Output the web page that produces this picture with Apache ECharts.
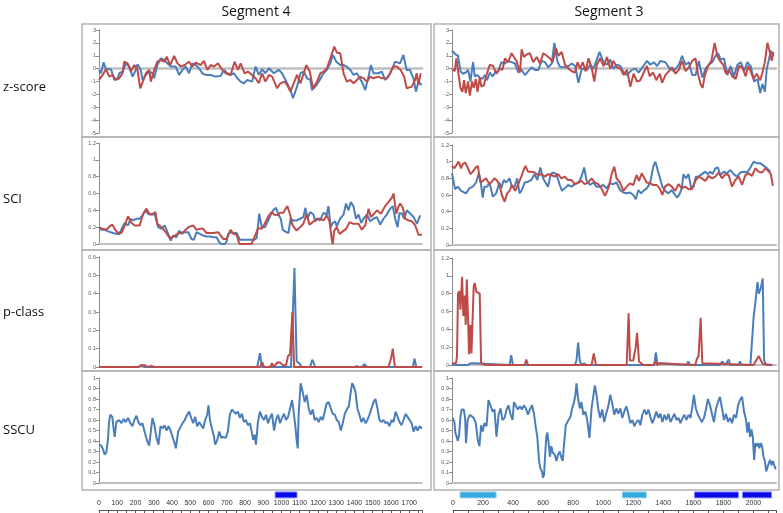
<!DOCTYPE html>
<html><head><meta charset="utf-8">
<script src="https://cdn.jsdelivr.net/npm/echarts/dist/echarts.min.js"></script>
<style>html,body{margin:0;padding:0;background:#fff}#c{width:783px;height:513px}</style>
</head><body><div id="c"></div><script>
// ---------------- DATA (x = position along segment, y = value) ----------------
const segTitles = ['Segment 4', 'Segment 3'];
const rowLabels = ['z-score', 'SCI', 'p-class', 'SSCU'];
const seg4Length = 1770, seg3Length = 2150;

const seg4_z_blue = [[0,-0.1],[11,-0.36],[25,0.49],[38,-0.05],[66,-0.05],[84,-0.88],[102,-0.75],[111,-0.36],[129,-0.23],[148,0.41],[166,0.16],[184,-0.62],[202,-0.1],[211,0.34],[229,-0.1],[239,-0.88],[257,-0.49],[275,-0.23],[293,-0.36],[302,-0.75],[320,0.28],[339,0.8],[357,0.67],[375,0.41],[393,0.16],[421,0.16],[439,-0.49],[457,-0.1],[475,0.16],[493,-0.36],[512,0.41],[530,0.28],[548,0.03],[566,-0.36],[585,-0.49],[612,-0.49],[639,-0.62],[666,-0.57],[685,-0.1],[703,-0.36],[721,-0.49],[739,-0.36],[758,-0.75],[776,-1.01],[794,-1.14],[812,-0.88],[839,-1.01],[858,0.16],[876,-0.49],[894,-0.05],[912,-0.36],[931,0.03],[958,-0.36],[985,-0.1],[1003,-0.36],[1031,-1.14],[1049,-1.66],[1063,-2.3],[1085,-1.4],[1104,-0.36],[1122,-0.23],[1140,-0.75],[1158,-0.88],[1167,-1.66],[1185,-1.4],[1204,-1.01],[1231,-0.36],[1249,-0.1],[1267,0.41],[1282,1.06],[1300,0.54],[1322,0.28],[1340,0.28],[1358,0.16],[1377,-0.1],[1395,-0.49],[1413,-0.36],[1440,-1.01],[1459,-1.66],[1477,-0.62],[1490,0.28],[1504,-0.36],[1531,-0.36],[1550,-0.23],[1568,-0.88],[1586,-0.62],[1604,-0.1],[1623,0.54],[1650,0.41],[1668,1.06],[1686,-0.1],[1704,-0.1],[1723,-0.75],[1737,-1.79],[1750,-1.01],[1768,-1.27]];
const seg4_z_red = [[0,-0.88],[20,-0.49],[38,-0.05],[56,-0.62],[75,-0.49],[93,-0.88],[111,-0.75],[129,-0.36],[138,0.54],[157,0.41],[175,-0.23],[193,0.28],[211,-0.1],[226,-1.53],[244,-0.88],[257,-0.36],[275,-0.1],[284,-1.01],[302,-0.1],[320,0.54],[339,0.67],[357,0.54],[371,0.93],[390,0.28],[412,0.98],[430,0.41],[448,0.16],[470,0.28],[493,0.54],[512,0.16],[530,0.47],[557,0.28],[575,0.6],[594,-0.1],[612,0.28],[630,0.16],[652,0.41],[676,-0.1],[694,-0.36],[721,-0.49],[743,0.54],[761,-0.1],[776,0.41],[798,-0.36],[816,-0.23],[839,-0.49],[858,-0.75],[876,-1.14],[894,-0.36],[912,-1.01],[931,-0.49],[949,-0.62],[976,-1.53],[994,-1.14],[1016,-1.01],[1031,-1.27],[1049,-1.79],[1067,-1.14],[1085,-0.49],[1104,-1.14],[1122,-0.36],[1136,0.28],[1155,-0.23],[1173,-1.53],[1195,-1.01],[1213,-0.36],[1231,-0.23],[1249,0.03],[1271,0.93],[1289,1.71],[1304,1.24],[1322,1.19],[1340,-0.36],[1358,-1.01],[1377,-0.88],[1395,-1.14],[1413,-0.88],[1431,-0.62],[1450,-0.75],[1468,-1.01],[1486,-0.62],[1504,-0.75],[1531,-0.62],[1550,-0.75],[1577,-0.75],[1595,-0.36],[1613,0.16],[1632,0.16],[1653,-0.1],[1672,-0.62],[1686,-1.53],[1714,-1.4],[1732,-0.88],[1741,-0.36],[1750,-1.27],[1763,-0.36]];

const seg3_z_blue = [[0,1.4],[24,1.1],[40,1.0],[56,-0.2],[73,-0.4],[91,-0.3],[107,-0.1],[122,-1.0],[140,0.5],[151,-0.6],[167,-0.5],[184,-0.7],[202,-0.8],[218,-0.5],[233,-0.9],[251,-0.3],[269,-0.6],[286,-0.3],[306,-0.2],[329,0.5],[351,0.4],[373,0.6],[395,0.5],[417,0.4],[440,-0.3],[462,-0.1],[484,-0.5],[506,-0.2],[528,0.1],[551,-0.1],[573,-0.1],[595,0.6],[617,0.5],[639,0.1],[662,0.4],[679,2.0],[699,0.6],[713,0.2],[728,0.1],[750,0.1],[773,0.2],[795,0.4],[817,0.2],[839,-1.1],[861,0],[895,-0.1],[917,0.3],[939,0],[979,1.3],[1001,0.6],[1028,0.3],[1050,0.7],[1072,0],[1094,0.3],[1117,0.2],[1139,-0.3],[1161,-0.5],[1194,-0.1],[1217,0],[1239,-0.3],[1294,0.6],[1316,0.3],[1339,0.5],[1361,0.2],[1383,0.6],[1416,0.5],[1439,0.1],[1472,-0.2],[1505,0.3],[1527,1.0],[1550,0.3],[1572,0.5],[1594,-0.5],[1616,-0.5],[1638,0.6],[1661,-0.7],[1683,0],[1705,0.3],[1727,0.5],[1749,1.0],[1765,1.2],[1783,0.7],[1805,0.8],[1827,-0.5],[1849,0.2],[1871,-0.6],[1894,0.3],[1916,0.5],[1938,-0.2],[1960,0.5],[1982,0.2],[2005,-1.0],[2027,-0.8],[2045,-1.9],[2060,-1.2],[2076,-1.8],[2089,0],[2105,0.8],[2116,1.4],[2133,1.0]];
const seg3_z_red = [[0,0.0],[18,-0.2],[29,0.8],[44,-0.5],[56,-1.5],[69,-1.8],[80,-0.9],[91,-1.9],[107,-1.0],[118,-2.1],[133,-1.0],[144,-1.5],[158,-0.8],[169,-1.8],[184,-0.7],[195,-1.4],[211,-1.3],[229,-0.5],[251,0.3],[273,0.2],[295,-0.4],[317,0.0],[335,-0.1],[351,0.8],[373,0.5],[395,1.2],[411,0.9],[428,0.6],[451,-0.3],[462,1.5],[477,0.9],[495,1.1],[517,1.2],[539,0.5],[562,0.9],[584,0.4],[606,1.2],[628,1.0],[650,0.8],[668,0.5],[690,1.6],[706,1.0],[728,1.3],[750,0.3],[773,0.0],[795,-0.2],[817,-0.3],[833,0.5],[850,0.0],[868,0.5],[886,-0.2],[906,0.8],[928,0.0],[944,-1.0],[961,0.3],[983,0.8],[1006,0.2],[1028,0.9],[1050,0.0],[1072,0.6],[1094,0.1],[1117,0.0],[1139,-0.5],[1161,-0.1],[1183,-1.4],[1205,-0.4],[1228,-1.0],[1250,-0.9],[1272,-0.3],[1294,0.2],[1312,-0.6],[1334,-0.3],[1356,-0.9],[1379,-0.4],[1394,-1.1],[1416,-0.5],[1439,-0.2],[1461,0.1],[1483,-0.4],[1505,-0.1],[1527,0.6],[1550,-0.2],[1572,0.1],[1594,0.6],[1616,0.8],[1632,-0.4],[1649,-1.2],[1663,-1.5],[1676,-0.6],[1698,0.2],[1721,0.6],[1743,2.0],[1760,1.0],[1778,0.6],[1800,0.3],[1818,-0.4],[1838,-0.1],[1860,-0.6],[1883,-0.8],[1905,0.2],[1927,0.1],[1949,-0.6],[1965,0.2],[1982,-0.2],[2000,-0.8],[2022,-0.4],[2045,-0.9],[2060,-0.3],[2076,0.5],[2093,2.0],[2111,1.2],[2122,0.6],[2133,1.3]];

const seg4_sci_blue = [[0,0.2],[13,0.17],[31,0.17],[49,0.15],[59,0.13],[77,0.13],[95,0.12],[113,0.12],[128,0.2],[141,0.25],[159,0.22],[172,0.3],[187,0.28],[205,0.3],[223,0.3],[242,0.35],[256,0.4],[269,0.36],[287,0.35],[306,0.35],[324,0.2],[342,0.18],[360,0.22],[379,0.12],[393,0.04],[406,0.1],[424,0.08],[439,0.16],[452,0.12],[470,0.14],[489,0.14],[507,0.06],[520,0.05],[534,0.14],[553,0.12],[571,0.1],[589,0.09],[608,0.09],[626,0.08],[644,0.08],[659,0.02],[672,0],[690,0],[699,0.03],[708,0.12],[721,0.14],[736,0.13],[754,0.13],[772,0.05],[791,0.05],[809,0.05],[827,0.05],[836,0.03],[851,0.05],[864,0.07],[878,0.36],[891,0.2],[910,0.2],[928,0.28],[941,0.35],[955,0.4],[970,0.43],[983,0.35],[996,0.3],[1007,0.17],[1019,0.15],[1038,0.13],[1050,0.3],[1065,0.28],[1083,0.28],[1102,0.3],[1120,0.32],[1131,0.43],[1142,0.3],[1157,0.38],[1175,0.35],[1186,0.27],[1197,0.3],[1211,0.28],[1230,0.37],[1248,0.35],[1257,0.45],[1270,0.2],[1281,0.25],[1294,0.27],[1303,0.21],[1321,0.3],[1340,0.35],[1354,0.48],[1367,0.4],[1380,0.5],[1394,0.45],[1409,0.3],[1422,0.35],[1437,0.25],[1449,0.3],[1468,0.35],[1486,0.27],[1504,0.3],[1523,0.32],[1541,0.23],[1559,0.3],[1577,0.35],[1596,0.42],[1610,0.45],[1623,0.3],[1636,0.2],[1647,0.37],[1660,0.36],[1673,0.3],[1687,0.4],[1706,0.36],[1724,0.32],[1742,0.24],[1760,0.34]];
const seg4_sci_red = [[0,0.2],[18,0.18],[40,0.17],[59,0.21],[73,0.23],[86,0.18],[99,0.14],[123,0.13],[141,0.22],[159,0.33],[168,0.34],[178,0.25],[196,0.22],[223,0.22],[242,0.36],[260,0.42],[278,0.35],[296,0.36],[309,0.38],[320,0.24],[342,0.2],[366,0.14],[388,0.07],[415,0.1],[439,0.13],[461,0.14],[489,0.2],[516,0.22],[534,0.17],[553,0.18],[571,0.18],[589,0.13],[626,0.13],[653,0.14],[681,0.06],[699,0.06],[721,0.17],[736,0.12],[754,0.11],[769,0],[791,0],[818,0],[836,0],[855,0.1],[873,0.19],[891,0.18],[910,0.25],[928,0.33],[946,0.38],[959,0.35],[977,0.34],[992,0.37],[1010,0.37],[1032,0.45],[1047,0.35],[1061,0.22],[1083,0.16],[1102,0.2],[1120,0.24],[1138,0.36],[1153,0.23],[1171,0.26],[1193,0.3],[1211,0.3],[1230,0.28],[1248,0.34],[1263,0.27],[1276,0.05],[1281,0],[1288,0.15],[1303,0.2],[1318,0.12],[1336,0.15],[1354,0.18],[1373,0.26],[1394,0.24],[1422,0.24],[1440,0.17],[1459,0.22],[1477,0.42],[1490,0.32],[1508,0.36],[1523,0.4],[1545,0.36],[1568,0.45],[1587,0.5],[1605,0.55],[1614,0.6],[1629,0.36],[1642,0.45],[1651,0.48],[1665,0.43],[1678,0.3],[1696,0.28],[1715,0.27],[1733,0.22],[1751,0.11],[1770,0.11]];

const seg3_sci_blue = [[0,0.86],[11,0.85],[20,0.67],[38,0.7],[60,0.65],[93,0.62],[115,0.68],[138,0.7],[160,0.75],[178,0.86],[189,0.78],[204,0.57],[215,0.7],[233,0.7],[249,0.75],[271,0.58],[293,0.62],[315,0.75],[326,0.68],[344,0.78],[360,0.75],[382,0.8],[397,0.7],[415,0.7],[433,0.8],[448,0.62],[464,0.66],[482,0.75],[504,0.76],[526,0.78],[548,0.85],[566,0.78],[586,0.93],[604,0.8],[620,0.75],[637,0.7],[655,0.85],[670,0.87],[693,0.85],[715,0.72],[730,0.65],[748,0.68],[770,0.72],[793,0.7],[815,0.73],[841,0.75],[859,0.82],[877,0.93],[892,0.78],[915,0.72],[937,0.75],[959,0.7],[981,0.7],[1003,0.72],[1026,0.68],[1048,0.74],[1070,0.73],[1092,0.75],[1115,0.66],[1137,0.63],[1159,0.62],[1181,0.63],[1203,0.6],[1219,0.55],[1237,0.66],[1254,0.62],[1270,0.65],[1292,0.68],[1314,0.74],[1337,0.95],[1350,1.0],[1368,0.88],[1381,0.9],[1396,0.7],[1414,0.65],[1436,0.62],[1459,0.66],[1476,0.61],[1492,0.57],[1507,0.6],[1525,0.68],[1536,0.85],[1552,0.8],[1570,0.85],[1587,0.68],[1603,0.7],[1618,0.82],[1636,0.82],[1658,0.85],[1681,0.88],[1698,0.85],[1714,0.88],[1729,0.85],[1747,0.92],[1765,0.93],[1780,0.84],[1803,0.88],[1825,0.86],[1847,0.9],[1869,0.85],[1891,0.82],[1914,0.87],[1936,0.88],[1958,0.87],[1980,0.93],[2002,1.0],[2025,0.98],[2047,0.98],[2069,0.95],[2091,0.92],[2113,0.88]];
const seg3_sci_red = [[0,0.95],[16,0.92],[33,0.97],[44,1.0],[60,0.92],[71,0.97],[87,0.99],[104,0.93],[122,0.85],[138,0.88],[153,0.92],[171,0.95],[189,0.75],[206,0.77],[226,0.8],[249,0.73],[264,0.76],[282,0.8],[300,0.77],[315,0.72],[331,0.6],[349,0.52],[366,0.62],[382,0.65],[397,0.72],[420,0.65],[437,0.72],[460,0.82],[475,0.9],[488,0.95],[504,0.88],[526,0.88],[548,0.87],[571,0.84],[593,0.85],[615,0.82],[637,0.85],[659,0.84],[682,0.82],[704,0.85],[726,0.8],[748,0.82],[770,0.78],[793,0.78],[815,0.73],[837,0.75],[859,0.77],[881,0.73],[904,0.75],[926,0.8],[948,0.75],[970,0.73],[992,0.68],[1015,0.59],[1026,0.63],[1041,0.7],[1059,0.85],[1077,0.94],[1092,0.8],[1115,0.75],[1137,0.65],[1159,0.7],[1181,0.74],[1203,0.72],[1225,0.84],[1241,0.77],[1259,0.86],[1277,0.8],[1292,0.75],[1314,0.74],[1337,0.72],[1359,0.72],[1381,0.67],[1396,0.6],[1414,0.7],[1436,0.73],[1459,0.7],[1481,0.65],[1503,0.73],[1525,0.68],[1547,0.7],[1570,0.67],[1592,0.67],[1614,0.77],[1636,0.82],[1658,0.8],[1681,0.77],[1703,0.83],[1725,0.8],[1747,0.82],[1769,0.87],[1792,0.8],[1814,0.85],[1836,0.84],[1858,0.7],[1880,0.78],[1903,0.82],[1925,0.72],[1947,0.84],[1969,0.86],[1991,0.83],[2013,0.92],[2036,0.88],[2058,0.87],[2080,0.92],[2102,0.88],[2116,0.85],[2129,0.71]];

const seg4_p_blue = [[0,0],[214,0],[232,0.01],[251,0],[867,0],[882,0.075],[893,0],[1052,0],[1071,0.54],[1083,0.03],[1098,0.02],[1111,0],[1157,0],[1169,0.04],[1185,0],[1400,0],[1413,0.005],[1425,0],[1440,0],[1455,0.015],[1468,0],[1720,0],[1729,0.045],[1739,0],[1770,0]];
const seg4_p_red = [[0,0],[216,0],[232,0.01],[251,0.01],[269,0],[287,0.005],[306,0],[882,0],[895,0.025],[904,0],[937,0],[948,0.02],[959,0],[977,0.025],[992,0.025],[1007,0.01],[1025,0.01],[1036,0.06],[1047,0.07],[1060,0.3],[1069,0],[1587,0],[1601,0.05],[1610,0.1],[1621,0],[1770,0]];

const seg3_p_blue = [[0,0],[104,0],[127,0.02],[138,0],[149,0.02],[160,0],[382,0],[393,0.11],[404,0],[815,0],[826,0.05],[837,0.25],[848,0.05],[859,0],[877,0.02],[892,0],[1121,0],[1130,0.02],[1141,0],[1343,0],[1352,0.14],[1363,0.02],[1370,0],[1558,0],[1567,0.04],[1581,0],[1780,0],[1792,0.04],[1803,0.03],[1814,0],[1825,0.02],[1836,0.06],[1847,0],[1903,0],[1911,0.04],[1920,0],[1980,0],[1991,0.02],[2002,0.55],[2013,0.7],[2027,0.93],[2036,0.8],[2049,0.86],[2062,0.97],[2071,0.05],[2085,0],[2125,0]];
const seg3_p_red = [[0,0.02],[11,0.03],[27,0.02],[33,0.1],[40,0.8],[49,0.83],[56,0.62],[67,0.99],[75,0.55],[84,0.78],[91,0.45],[98,0.96],[107,0.5],[113,0.12],[122,0.45],[129,0.13],[138,0.15],[144,0.88],[151,0.92],[162,0.82],[171,0.8],[184,0.8],[193,0.02],[204,0],[226,0],[238,0.01],[253,0],[482,0],[493,0.06],[504,0],[926,0],[941,0.13],[955,0],[1159,0],[1172,0.58],[1181,0.05],[1203,0.05],[1219,0.2],[1228,0.36],[1241,0.04],[1254,0.05],[1270,0],[1336,0],[1350,0.04],[1361,0],[1381,0.02],[1392,0],[1614,0],[1625,0.07],[1636,0.1],[1650,0.53],[1661,0.02],[1672,0],[2002,0],[2018,0.05],[2036,0.1],[2047,0.1],[2062,0.01],[2125,0]];

const seg4_sscu = [[0,0.365],[13,0.355],[22,0.32],[31,0.27],[40,0.29],[49,0.41],[55,0.58],[62,0.65],[73,0.63],[81,0.5],[86,0.44],[95,0.58],[110,0.6],[123,0.57],[135,0.61],[146,0.58],[159,0.62],[172,0.57],[183,0.54],[194,0.6],[205,0.64],[216,0.58],[227,0.55],[238,0.57],[251,0.48],[264,0.4],[275,0.355],[282,0.46],[293,0.62],[304,0.55],[315,0.43],[326,0.365],[337,0.54],[348,0.52],[359,0.55],[370,0.5],[381,0.54],[392,0.5],[403,0.44],[414,0.38],[421,0.33],[434,0.49],[443,0.52],[458,0.57],[470,0.6],[483,0.65],[494,0.68],[505,0.62],[516,0.57],[527,0.63],[538,0.54],[549,0.58],[560,0.55],[571,0.52],[582,0.6],[593,0.65],[600,0.74],[608,0.6],[619,0.52],[630,0.44],[637,0.365],[648,0.41],[659,0.49],[670,0.43],[681,0.44],[695,0.43],[706,0.49],[717,0.65],[728,0.7],[739,0.68],[750,0.66],[761,0.68],[772,0.62],[783,0.66],[794,0.58],[805,0.6],[816,0.55],[827,0.57],[838,0.48],[845,0.41],[853,0.46],[860,0.365],[871,0.58],[882,0.68],[893,0.63],[904,0.6],[915,0.65],[926,0.57],[937,0.62],[948,0.66],[959,0.5],[970,0.6],[981,0.65],[992,0.57],[1003,0.62],[1014,0.66],[1025,0.6],[1036,0.63],[1047,0.71],[1058,0.79],[1065,0.7],[1076,0.54],[1083,0.41],[1089,0.33],[1094,0.65],[1105,0.95],[1116,0.87],[1127,0.77],[1138,0.84],[1149,0.71],[1160,0.65],[1171,0.7],[1182,0.6],[1193,0.62],[1204,0.58],[1215,0.63],[1226,0.6],[1237,0.68],[1248,0.76],[1259,0.77],[1270,0.71],[1281,0.66],[1292,0.65],[1303,0.6],[1314,0.58],[1325,0.5],[1336,0.57],[1347,0.66],[1358,0.7],[1369,0.73],[1380,0.87],[1387,0.95],[1394,0.93],[1405,0.87],[1416,0.71],[1427,0.65],[1438,0.58],[1449,0.62],[1460,0.57],[1471,0.6],[1482,0.65],[1493,0.71],[1504,0.77],[1515,0.8],[1526,0.71],[1537,0.6],[1548,0.58],[1559,0.6],[1570,0.57],[1581,0.58],[1592,0.54],[1603,0.6],[1614,0.58],[1625,0.68],[1636,0.63],[1647,0.58],[1658,0.55],[1669,0.6],[1680,0.66],[1691,0.63],[1702,0.6],[1713,0.57],[1724,0.49],[1735,0.54],[1746,0.5],[1757,0.54],[1770,0.52]];
const seg3_sscu = [[4,0.62],[16,0.58],[22,0.48],[31,0.44],[38,0.4],[47,0.46],[56,0.63],[64,0.7],[78,0.7],[87,0.62],[93,0.38],[104,0.6],[118,0.65],[131,0.66],[144,0.62],[158,0.57],[171,0.41],[182,0.35],[193,0.55],[204,0.49],[215,0.57],[229,0.54],[242,0.79],[255,0.74],[269,0.68],[282,0.7],[295,0.44],[309,0.65],[322,0.71],[335,0.6],[349,0.62],[362,0.7],[375,0.74],[389,0.65],[402,0.6],[411,0.77],[424,0.77],[437,0.7],[451,0.73],[464,0.7],[477,0.74],[491,0.71],[504,0.65],[517,0.7],[531,0.74],[544,0.66],[555,0.54],[566,0.44],[577,0.22],[586,0.14],[597,0.11],[604,0.05],[611,0.08],[619,0.29],[626,0.44],[633,0.48],[642,0.37],[650,0.25],[659,0.35],[668,0.29],[682,0.27],[693,0.21],[704,0.27],[715,0.3],[726,0.24],[735,0.21],[744,0.38],[748,0.44],[755,0.55],[766,0.58],[777,0.58],[786,0.63],[797,0.71],[810,0.77],[819,0.84],[826,0.95],[837,0.8],[848,0.71],[859,0.77],[872,0.65],[886,0.68],[899,0.58],[912,0.43],[926,0.71],[939,0.84],[948,0.93],[959,0.84],[970,0.71],[983,0.62],[997,0.7],[1010,0.58],[1023,0.66],[1037,0.73],[1050,0.84],[1063,0.76],[1077,0.65],[1090,0.71],[1103,0.66],[1117,0.71],[1130,0.62],[1143,0.68],[1157,0.73],[1170,0.66],[1183,0.57],[1197,0.6],[1210,0.54],[1223,0.58],[1237,0.6],[1250,0.55],[1263,0.65],[1277,0.7],[1290,0.65],[1303,0.7],[1316,0.63],[1330,0.57],[1343,0.62],[1356,0.68],[1370,0.62],[1383,0.66],[1396,0.58],[1410,0.65],[1423,0.6],[1436,0.66],[1450,0.58],[1463,0.62],[1476,0.66],[1490,0.6],[1503,0.62],[1516,0.57],[1530,0.62],[1543,0.65],[1556,0.6],[1570,0.65],[1583,0.62],[1596,0.74],[1605,0.84],[1618,0.71],[1632,0.65],[1645,0.66],[1658,0.58],[1672,0.62],[1685,0.7],[1698,0.8],[1712,0.74],[1725,0.66],[1738,0.58],[1752,0.71],[1765,0.77],[1778,0.82],[1792,0.71],[1805,0.6],[1818,0.66],[1832,0.58],[1845,0.62],[1858,0.57],[1871,0.65],[1885,0.62],[1898,0.74],[1911,0.79],[1925,0.82],[1938,0.68],[1951,0.6],[1960,0.48],[1969,0.58],[1978,0.44],[1987,0.51],[1996,0.44],[2005,0.22],[2013,0.38],[2022,0.35],[2031,0.38],[2040,0.33],[2049,0.38],[2058,0.35],[2067,0.25],[2076,0.21],[2085,0.11],[2093,0.1],[2102,0.19],[2111,0.22],[2120,0.17],[2129,0.21],[2138,0.17],[2148,0.13]];

// annotation spans along each segment: [start, end, kind]  (kind 0 = dark blue, 1 = light blue)
const seg4_bars = [[965,1085,0]];
const seg3_bars = [[47,287,1],[1127,1287,1],[1607,1900,0],[1927,2120,0]];

// bottom ruler tick steps
const seg4_ruler_step = 100, seg3_ruler_step = 200;

// ---------------- CHART ----------------
const BLUE = '#4a7ebb', RED = '#be4b48';
const BAR_COLORS = ['#0a0ae6', '#35a8dc'];
const FONT = '"Open Sans", "Noto Sans", sans-serif';
const cols = [
  { left: 99, width: 323, max: seg4Length },
  { left: 452, width: 324, max: seg3Length }
];
// panel vertical placements per column
const panels = [
  // z-score
  { col:0, top:30, height:103, min:-5, max:3, interval:1, zero:true, series:[seg4_z_blue, seg4_z_red] },
  { col:1, top:30, height:103, min:-5, max:3, interval:1, zero:true, series:[seg3_z_blue, seg3_z_red] },
  // SCI
  { col:0, top:143, height:101, min:0, max:1.2, interval:0.2, series:[seg4_sci_blue, seg4_sci_red] },
  { col:1, top:145, height:100, min:0, max:1.2, interval:0.2, series:[seg3_sci_blue, seg3_sci_red] },
  // p-class
  { col:0, top:257, height:110, min:0, max:0.6, interval:0.1, series:[seg4_p_blue, seg4_p_red] },
  { col:1, top:258, height:107, min:0, max:1.2, interval:0.2, series:[seg3_p_blue, seg3_p_red] },
  // SSCU
  { col:0, top:378, height:105, min:0, max:1, interval:0.1, series:[seg4_sscu] },
  { col:1, top:378, height:105, min:0, max:1, interval:0.1, series:[seg3_sscu] }
];

const grid = [], xAxis = [], yAxis = [], series = [];
panels.forEach((p, i) => {
  const c = cols[p.col];
  grid.push({ left: c.left, width: c.width, top: p.top, height: p.height });
  xAxis.push({
    gridIndex: i, type: 'value', min: 0, max: c.max,
    axisLine: { show: true, onZero: true, lineStyle: { color: '#bfbfbf', width: p.zero ? 2.5 : 2 } },
    axisTick: { show: false }, axisLabel: { show: false }, splitLine: { show: false }
  });
  yAxis.push({
    gridIndex: i, type: 'value', min: p.min, max: p.max, interval: p.interval,
    axisLine: { show: true, onZero: false, lineStyle: { color: '#8c8c8c', width: 1 } },
    axisTick: { show: true, length: 3, lineStyle: { color: '#8c8c8c' } },
    axisLabel: { fontSize: 5.5, color: '#595959', margin: 3, fontFamily: 'Liberation Sans' },
    splitLine: { show: false }
  });
  p.series.forEach((d, k) => {
    series.push({
      type: 'line', xAxisIndex: i, yAxisIndex: i, data: d,
      showSymbol: false, symbol: 'none', animation: false,
      lineStyle: { width: 2, color: k === 0 ? BLUE : RED }, itemStyle: { color: k === 0 ? BLUE : RED },
      z: 3 + k
    });
  });
});

// bottom rulers
[[seg4_bars, seg4_ruler_step], [seg3_bars, seg3_ruler_step]].forEach(([bars, step], ci) => {
  const c = cols[ci];
  const gi = grid.length;
  grid.push({ left: ci === 0 ? 99 : 453, width: ci === 0 ? 323 : 323, top: 488, height: 22 });
  xAxis.push({
    gridIndex: gi, type: 'value', min: 0, max: c.max, interval: step,
    axisLine: { show: true, lineStyle: { color: '#595959', width: 1 } },
    axisTick: { show: true, inside: false, length: 3, lineStyle: { color: '#595959' } },
    minorTick: { show: true, splitNumber: step === 100 ? 2 : 2, length: 3, lineStyle: { color: '#595959' } },
    axisLabel: { inside: true, margin: 3, fontSize: 7, color: '#333', fontFamily: 'Liberation Sans',
      formatter: v => (v > c.max - step * 0.5 && v % step !== 0) ? '' : String(v) },
    splitLine: { show: false }
  });
  yAxis.push({ gridIndex: gi, type: 'value', min: 0, max: 1, show: false });
  series.push({
    type: 'custom', xAxisIndex: gi, yAxisIndex: gi, data: bars, animation: false,
    encode: { x: [0, 1] },
    renderItem: (params, api) => {
      const s = api.coord([api.value(0), 0.82]);
      const e = api.coord([api.value(1), 0.55]);
      const col = BAR_COLORS[api.value(2)];
      return { type: 'rect', shape: { x: s[0], y: s[1], width: e[0] - s[0], height: e[1] - s[1] },
        style: { fill: col, stroke: api.value(2) === 0 ? '#7f86ff' : '#8fd0ee', lineWidth: 1 } };
    }
  });
});

// frames, titles, row labels
const graphic = [];
const rowsY = [[24,137],[137,250],[250,371],[371,490]];
[[82,349],[434,345]].forEach(([x, w]) => {
  rowsY.forEach(([y0, y1]) => {
    graphic.push({ type: 'rect', shape: { x: x, y: y0, width: w, height: y1 - y0 },
      style: { fill: 'none', stroke: '#b3b3b3', lineWidth: 1.5 }, z: -1 });
  });
});
graphic.push({ type: 'text', x: 256, y: 12, style: { text: segTitles[0], font: '14px ' + FONT, fill: '#111', textAlign: 'center', textVerticalAlign: 'middle' } });
graphic.push({ type: 'text', x: 609, y: 12, style: { text: segTitles[1], font: '14px ' + FONT, fill: '#111', textAlign: 'center', textVerticalAlign: 'middle' } });
[87, 199, 312, 430].forEach((y, i) => {
  graphic.push({ type: 'text', x: 3, y: y, style: { text: rowLabels[i], font: '13px ' + FONT, fill: '#111', textAlign: 'left', textVerticalAlign: 'middle' } });
});

const chart = echarts.init(document.getElementById('c'), null, { renderer: 'canvas' });
chart.setOption({ animation: false, backgroundColor: '#fff', grid, xAxis, yAxis, series, graphic });
</script></body></html>
